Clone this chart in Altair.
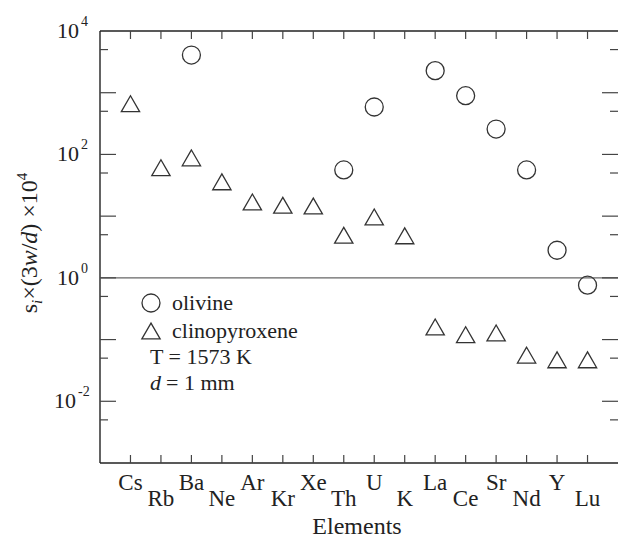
import altair as alt
import pandas as pd

# ---------------- data ----------------
elements = ["Cs", "Rb", "Ba", "Ne", "Ar", "Kr", "Xe", "Th", "U", "K",
            "La", "Ce", "Sr", "Nd", "Y", "Lu"]
cpx_values = [665, 61, 88, 36, 17, 15, 14.6, 4.9, 9.7, 4.8,
              0.16, 0.12, 0.128, 0.056, 0.047, 0.047]
ol_elements = ["Ba", "Th", "U", "La", "Ce", "Sr", "Nd", "Y", "Lu"]
ol_values = [4080, 56, 587, 2275, 894, 258, 56, 2.8, 0.76]

decade_ticks = [1e3, 1e2, 1e1, 1e0, 1e-1, 1e-2]
half_ticks = [5e3, 5e2, 5e1, 5e0, 5e-1, 5e-2, 5e-3]
ylabel_values = [1e4, 1e2, 1e0, 1e-2]
ylabel_exps = ["4", "2", "0", "-2"]

# ---------------- layout ----------------
W, H = 518, 432
FONT = "Liberation Serif"
INK = "#222222"
TICK = "#444444"

pos = {e: i + 1 for i, e in enumerate(elements)}
cat_df = pd.DataFrame({"el": elements,
                       "pos": [pos[e] for e in elements],
                       "row": [i % 2 for i in range(len(elements))]})
cpx_df = pd.DataFrame({"pos": [pos[e] for e in elements], "val": cpx_values})
ol_df = pd.DataFrame({"pos": [pos[e] for e in ol_elements], "val": ol_values})
dec_df = pd.DataFrame({"val": decade_ticks})
half_df = pd.DataFrame({"val": half_ticks})
ylab_df = pd.DataFrame({"val": ylabel_values, "exp": ylabel_exps,
                        "long": [len(e) > 1 for e in ylabel_exps]})
one_df = pd.DataFrame({"val": [1.0]})

xs = alt.Scale(domain=[0, 17], nice=False, zero=False)
ys = alt.Scale(type="log", domain=[1e-3, 1e4], nice=False)


def X():
    return alt.X("pos:Q", scale=xs, axis=None)


def Y():
    return alt.Y("val:Q", scale=ys, axis=None)


layers = []

# frame (left, top, bottom)
layers.append(alt.Chart(one_df).mark_rule(color=INK, strokeWidth=1.4).encode(
    x=alt.value(0), y=alt.value(0), y2=alt.value(H)))
layers.append(alt.Chart(one_df).mark_rule(color=INK, strokeWidth=1.4).encode(
    x=alt.value(0), x2=alt.value(W), y=alt.value(0)))
layers.append(alt.Chart(one_df).mark_rule(color=INK, strokeWidth=1.4).encode(
    x=alt.value(0), x2=alt.value(W), y=alt.value(H)))

# line at 1
layers.append(alt.Chart(one_df).mark_rule(color="#666666", strokeWidth=1.3).encode(
    y=Y(), x=alt.value(0), x2=alt.value(W)))

# y ticks (inward, both sides)
layers.append(alt.Chart(dec_df).mark_rule(color=TICK, strokeWidth=1.2).encode(
    y=Y(), x=alt.value(0), x2=alt.value(16)))
layers.append(alt.Chart(dec_df).mark_rule(color=TICK, strokeWidth=1.2).encode(
    y=Y(), x=alt.value(W - 16), x2=alt.value(W)))
layers.append(alt.Chart(half_df).mark_rule(color=TICK, strokeWidth=1.2).encode(
    y=Y(), x=alt.value(0), x2=alt.value(8)))
layers.append(alt.Chart(half_df).mark_rule(color=TICK, strokeWidth=1.2).encode(
    y=Y(), x=alt.value(W - 8), x2=alt.value(W)))

# x ticks (inward, top and bottom)
layers.append(alt.Chart(cat_df).mark_rule(color=TICK, strokeWidth=1.2).encode(
    x=X(), y=alt.value(0), y2=alt.value(8)))
layers.append(alt.Chart(cat_df).mark_rule(color=TICK, strokeWidth=1.2).encode(
    x=X(), y=alt.value(H - 8), y2=alt.value(H)))

# data points
layers.append(alt.Chart(ol_df).mark_point(
    shape="circle", size=324, filled=False, stroke="#333333", strokeWidth=1.3,
    opacity=1).encode(x=X(), y=Y()))
layers.append(alt.Chart(cpx_df).mark_point(
    shape="triangle-up", size=335, filled=False, stroke="#333333",
    strokeWidth=1.3, opacity=1).encode(x=X(), y=Y()))

# category labels (two staggered rows)
for r, yoff in [(0, 20), (1, 36)]:
    layers.append(alt.Chart(cat_df).transform_filter(
        alt.datum.row == r).mark_text(
        font=FONT, fontSize=23, color=INK, baseline="middle", align="center"
    ).encode(x=X(), y=alt.value(H + yoff), text="el:N"))

# x title
layers.append(alt.Chart(one_df).mark_text(
    text="Elements", font=FONT, fontSize=24, color=INK, baseline="middle",
    align="center").encode(x=alt.value(W / 2 - 2), y=alt.value(H + 64)))

# y tick labels: "10" with superscript exponent
for is_long, base_x in [(False, -21), (True, -24)]:
    sub = alt.Chart(ylab_df).transform_filter(alt.datum.long == is_long)
    layers.append(sub.mark_text(
        text="10", font=FONT, fontSize=22, color=INK, baseline="middle",
        align="right").encode(y=Y(), x=alt.value(base_x)))
    layers.append(sub.mark_text(
        font=FONT, fontSize=14, color=INK, baseline="middle", align="left",
        dy=-9).encode(y=Y(), x=alt.value(base_x + 2), text="exp:N"))

# y title built from rotated segments (reads bottom to top)
F, FS = 24, 15
segments = [
    ("s", F, "normal", 0, 389 * F / 1000),
    ("i", FS, "italic", 5, 278 * FS / 1000),
    ("\u00d7(3", F, "normal", 0, 1397 * F / 1000),
    ("w", F, "italic", 0, 667 * F / 1000),
    ("/", F, "normal", 0, 278 * F / 1000),
    ("d", F, "italic", 0, 500 * F / 1000),
    (") \u00d710", F, "normal", 0, 2147 * F / 1000),
    ("4", FS, "normal", -10, 500 * FS / 1000),
]
total = sum(s[4] for s in segments)
y_start = (243 - 31) + total / 2
bx = 37 - 100
cur = y_start
for txt, fs, style, shift, wdt in segments:
    layers.append(alt.Chart(one_df).mark_text(
        text=txt, font=FONT, fontSize=fs, fontStyle=style, color=INK,
        angle=270, align="left", baseline="alphabetic"
    ).encode(x=alt.value(bx + shift), y=alt.value(cur)))
    cur -= wdt

# in-plot legend
lx, tx = 51, 72
layers.append(alt.Chart(one_df).mark_point(
    shape="circle", size=324, filled=False, stroke="#333333", strokeWidth=1.3,
    opacity=1).encode(x=alt.value(lx), y=alt.value(272)))
layers.append(alt.Chart(one_df).mark_point(
    shape="triangle-up", size=335, filled=False, stroke="#333333",
    strokeWidth=1.3, opacity=1).encode(x=alt.value(lx), y=alt.value(300)))
for txt, yy in [("olivine", 272), ("clinopyroxene", 300)]:
    layers.append(alt.Chart(one_df).mark_text(
        text=txt, font=FONT, fontSize=22, color=INK, baseline="middle",
        align="left").encode(x=alt.value(tx), y=alt.value(yy)))
layers.append(alt.Chart(one_df).mark_text(
    text="T = 1573 K", font=FONT, fontSize=22, color=INK, baseline="middle",
    align="left").encode(x=alt.value(50), y=alt.value(326)))
layers.append(alt.Chart(one_df).mark_text(
    text="d", font=FONT, fontSize=22, fontStyle="italic", color=INK,
    baseline="middle", align="left").encode(x=alt.value(50), y=alt.value(352)))
layers.append(alt.Chart(one_df).mark_text(
    text="= 1 mm", font=FONT, fontSize=22, color=INK, baseline="middle",
    align="left").encode(x=alt.value(66), y=alt.value(352)))

chart = alt.layer(*layers).properties(
    width=W, height=H,
    autosize=alt.AutoSizeParams(type="none"),
    padding={"left": 100, "top": 31, "right": 0, "bottom": 80},
    background="white",
).configure_view(stroke=None)

chart.save("out.html", embed_options={"renderer": "svg", "actions": False})
